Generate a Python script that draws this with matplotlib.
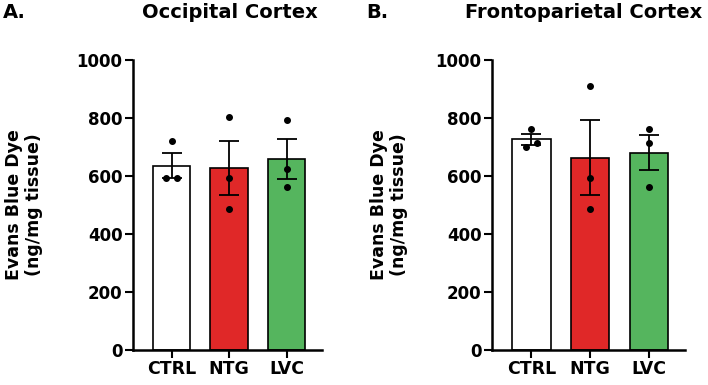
import matplotlib
matplotlib.use("Agg")
import matplotlib.pyplot as plt
import numpy as np

plt.rcParams['font.family'] = ['DejaVu Sans']
plt.rcParams['font.weight'] = 'bold'

groups = ["CTRL", "NTG", "LVC"]
colors = ["#FFFFFF", "#E02828", "#55B55E"]

# Occipital cortex
occ_means = [636, 629, 660]
occ_sem = [42, 93, 69]
occ_points = [[721, 594, 594], [805, 594, 487], [794, 623, 562]]

# Frontoparietal cortex
fp_means = [727, 664, 680]
fp_sem = [19, 129, 60]
fp_points = [[764, 701, 715], [910, 594, 487], [764, 714, 562]]

yticks = [0, 200, 400, 600, 800, 1000]

# horizontal offsets of the individual dots (style)
occ_offsets = [[0, -0.1, 0.1], [0, 0, 0], [0, 0, 0]]
fp_offsets = [[0, -0.1, 0.1], [0, 0, 0], [0, 0, 0]]

fig = plt.figure(figsize=(7.08, 3.85), dpi=100)
ax1 = fig.add_axes([0.188, 0.0909, 0.267, 0.753])
ax2 = fig.add_axes([0.695, 0.0909, 0.273, 0.753])

def draw(ax, means, sems, points, offsets, label_x):
    x = np.arange(len(groups))
    ax.bar(x, means, width=0.65, color=colors, edgecolor='black', linewidth=1.2, zorder=2)
    ax.errorbar(x, means, yerr=sems, fmt='none', ecolor='black', elinewidth=1.3,
                capsize=7, capthick=1.3, zorder=3)
    for i, pts in enumerate(points):
        xs = [x[i] + o for o in offsets[i]]
        ax.plot(xs, pts, 'o', color='black', markersize=4, zorder=4, linestyle='none')
    ax.set_xlim(-0.67, 2.62)
    ax.set_ylim(0, 1000)
    ax.set_yticks(yticks)
    ax.set_yticklabels([str(t) for t in yticks], fontsize=12, fontweight='bold')
    ax.set_xticks(x)
    ax.set_xticklabels(groups, fontsize=12.5, fontweight='bold')
    for s in ['top', 'right']:
        ax.spines[s].set_visible(False)
    for s in ['left', 'bottom']:
        ax.spines[s].set_linewidth(1.8)
    ax.tick_params(axis='both', width=1.5, length=5.5, pad=2)
    ax.set_ylabel("Evans Blue Dye\n(ng/mg tissue)", fontsize=12.5, fontweight='bold',
                  va='center', linespacing=1.15)
    ax.yaxis.set_label_coords(label_x, 0.5)

draw(ax1, occ_means, occ_sem, occ_points, occ_offsets, -0.575)
draw(ax2, fp_means, fp_sem, fp_points, fp_offsets, -0.535)

fig.text(0.004, 0.968, "A.", fontsize=14, fontweight='bold', va='center', ha='left')
fig.text(0.325, 0.968, "Occipital Cortex", fontsize=14, fontweight='bold', va='center', ha='center')
fig.text(0.517, 0.968, "B.", fontsize=14, fontweight='bold', va='center', ha='left')
fig.text(0.825, 0.968, "Frontoparietal Cortex", fontsize=14, fontweight='bold', va='center', ha='center')

fig.savefig("out.png", dpi=100)
